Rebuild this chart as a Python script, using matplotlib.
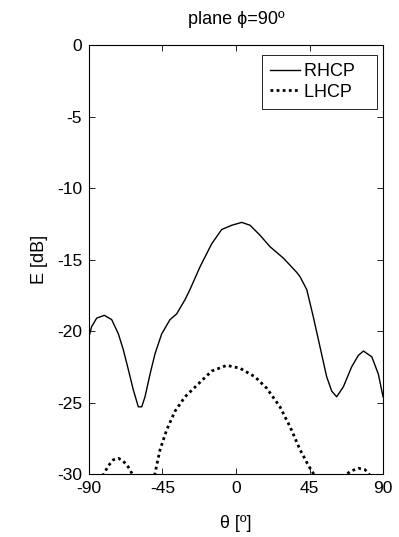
import matplotlib
matplotlib.use("Agg")
import matplotlib.pyplot as plt

plt.rcParams['font.family'] = ['Liberation Sans', 'DejaVu Sans']
plt.rcParams['axes.unicode_minus'] = False

# RHCP curve
rhcp_theta = [-90, -88.4, -85.3, -80.6, -76.1, -72, -69, -65.9, -62.9, -59.8, -57.7, -55.7,
              -52.6, -49.6, -45.5, -40.4, -36.3, -31.2, -28.2, -22, -14.9, -8.8, -2.6, 3.5,
              8.6, 14.7, 20.8, 29, 33.1, 37.2, 39.2, 43.3, 47.3, 51.4, 55.5, 58.6, 61.6,
              65.7, 70.8, 74.9, 78, 83.1, 87.1, 90]
rhcp_db = [-20.4, -19.7, -19.1, -18.9, -19.2, -20.2, -21.3, -22.7, -24.1, -25.3, -25.3, -24.6,
           -23.0, -21.6, -20.2, -19.2, -18.8, -17.8, -17.1, -15.5, -13.9, -12.9, -12.6, -12.4,
           -12.6, -13.3, -14.1, -14.9, -15.4, -15.9, -16.2, -17.1, -19.0, -21.1, -23.2, -24.2,
           -24.6, -23.9, -22.5, -21.7, -21.4, -21.8, -23.0, -24.6]

# LHCP curve (three lobes above the -30 dB floor)
lhcp_theta = [-82, -81, -78, -75, -72, -69, -66, -63, -62,
              -51, -49.6, -46.5, -42.4, -37.3, -31.2, -23.1, -14.9, -5.7, 2.4, 11.6, 18.8,
              26.9, 33.1, 39.2, 44.3, 47.3, 48.5,
              66, 67, 70, 75, 79, 82, 83]
lhcp_db = [-31, -30.0, -29.4, -29.0, -28.9, -29.1, -29.5, -30.1, -31,
           -31, -29.95, -28.3, -26.9, -25.6, -24.6, -23.7, -22.8, -22.4, -22.6, -23.2, -24.0,
           -25.3, -26.7, -28.3, -29.4, -29.95, -31,
           -31, -30.1, -29.8, -29.6, -29.7, -30.1, -31]

x_ticks = [-90, -45, 0, 45, 90]
y_ticks = [0, -5, -10, -15, -20, -25, -30]

fig = plt.figure(figsize=(3.99, 5.37), dpi=100)
ax = fig.add_axes([0.223, 0.1173, 0.737, 0.7987])

# trailing spaces give the wide right margin of the original legend box
ax.plot(rhcp_theta, rhcp_db, color='black', lw=1.0, label='RHCP   ')
ax.plot(lhcp_theta, lhcp_db, color='black', lw=2.0, linestyle=(0, (1, 1.2)), label='LHCP   ')

ax.set_xlim(-90, 90)
ax.set_ylim(-30, 0)
ax.set_xticks(x_ticks)
ax.set_yticks(y_ticks)
ax.tick_params(direction='in', top=True, right=True, labelsize=12.5, length=4, width=0.6)
ax.tick_params(axis='x', pad=5)
ax.tick_params(axis='y', pad=5)
for s in ax.spines.values():
    s.set_linewidth(0.8)

ax.set_title('plane \u03d5=90\u00ba', fontsize=13, pad=15)
ax.set_xlabel('\u03b8 [\u00ba]', fontsize=13, labelpad=14)
ax.set_ylabel('E [dB]', fontsize=13, labelpad=6)

leg = ax.legend(loc='upper right', fontsize=13, handlelength=1.65, handletextpad=0.2,
                fancybox=False, framealpha=1, borderpad=0.45, labelspacing=0.2,
                borderaxespad=0, bbox_to_anchor=(0.98, 0.977))
leg.get_frame().set_edgecolor('black')
leg.get_frame().set_linewidth(0.6)

fig.savefig('out.png', dpi=100)
